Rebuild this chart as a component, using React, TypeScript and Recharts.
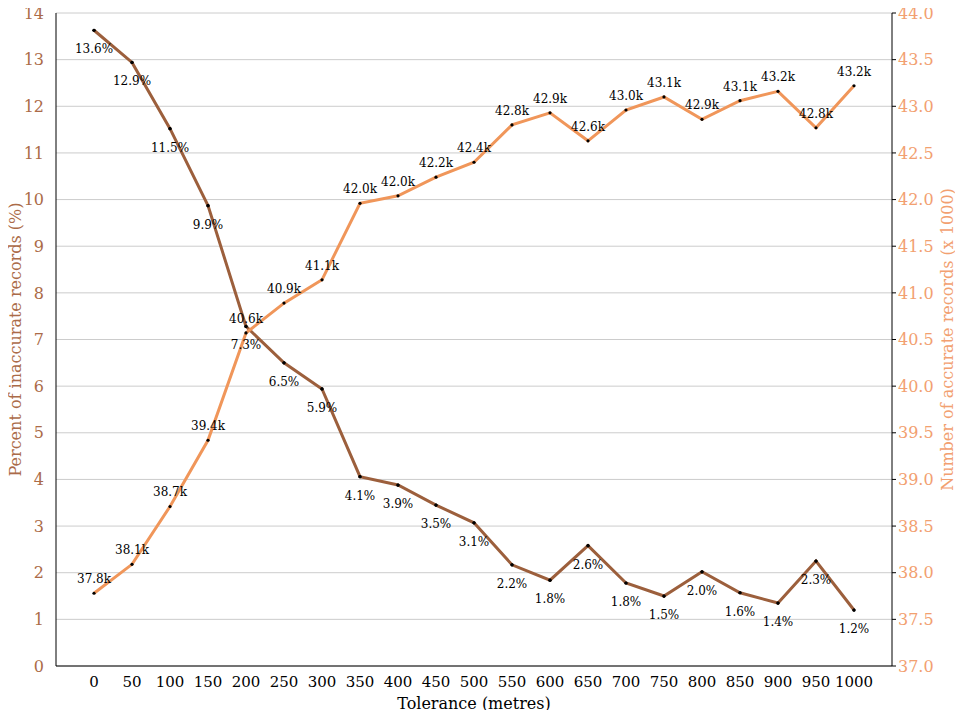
import React from 'react';
import { LineChart, Line, XAxis, YAxis, CartesianGrid, LabelList } from 'recharts';

const tolerances = [0, 50, 100, 150, 200, 250, 300, 350, 400, 450, 500, 550, 600, 650, 700, 750, 800, 850, 900, 950, 1000];
const pctInaccurate = [13.63, 12.94, 11.52, 9.87, 7.28, 6.5, 5.94, 4.06, 3.88, 3.45, 3.07, 2.17, 1.84, 2.58, 1.78, 1.5, 2.02, 1.57, 1.35, 2.25, 1.2];
const accurateK = [37.78, 38.09, 38.71, 39.42, 40.57, 40.89, 41.14, 41.96, 42.04, 42.24, 42.4, 42.8, 42.93, 42.63, 42.96, 43.1, 42.86, 43.06, 43.16, 42.77, 43.22];
const leftTicks = [0, 1, 2, 3, 4, 5, 6, 7, 8, 9, 10, 11, 12, 13, 14];
const rightTicks = [37, 37.5, 38, 38.5, 39, 39.5, 40, 40.5, 41, 41.5, 42, 42.5, 43, 43.5, 44];

const data = tolerances.map((t, i) => ({ t, pct: pctInaccurate[i], count: accurateK[i] }));

const FONT = "'DejaVu Serif', serif";
const BROWN = '#9c5f3c';
const BROWN_TEXT = '#ab6b48';
const ORANGE = '#f0965a';
const ORANGE_TEXT = '#f2a070';

const Dot = (props: any) => <circle key={props.index} cx={props.cx} cy={props.cy} r={1.6} fill="#000" />;

const PctLabel = (props: any) => (
  <text x={props.x} y={props.y + 19} textAnchor="middle" dominantBaseline="central" fontSize={12} fill="#000">
    {props.value.toFixed(1)}%
  </text>
);

const CountLabel = (props: any) => (
  <text x={props.x} y={props.y - 14} textAnchor="middle" dominantBaseline="central" fontSize={12} fill="#000">
    {props.value.toFixed(1)}k
  </text>
);

export default function App() {
  return (
    <div style={{ margin: -8, width: 963, height: 718, background: '#fff' }}>
      <style>{`svg text, .recharts-wrapper text { font-family: 'DejaVu Serif', serif !important; }`}</style>
      <LineChart width={963} height={718} data={data} margin={{ top: 13, right: 0, left: 0, bottom: 0 }}>
        <CartesianGrid yAxisId="left" vertical={false} stroke="#cccccc" />
        <XAxis
          dataKey="t"
          type="number"
          domain={[-50, 1050]}
          ticks={tolerances}
          interval={0}
          height={52}
          tickLine={false}
          axisLine={{ stroke: '#000' }}
          tick={{ fill: '#000', fontSize: 15 }}
          tickMargin={4}
          label={{ value: 'Tolerance (metres)', position: 'insideBottom', offset: 9, fill: '#000', fontSize: 16 }}
        />
        <YAxis
          yAxisId="left"
          domain={[0, 14]}
          ticks={leftTicks}
          interval={0}
          width={56}
          tickLine={false}
          axisLine={{ stroke: '#000' }}
          tick={{ fill: BROWN_TEXT, fontSize: 16 }}
          tickMargin={6}
          label={{ value: 'Percent of inaccurate records (%)', angle: -90, position: 'insideLeft', offset: 15, style: { textAnchor: 'middle' }, fill: BROWN_TEXT, fontSize: 16 }}
        />
        <YAxis
          yAxisId="right"
          orientation="right"
          domain={[37, 44]}
          ticks={rightTicks}
          interval={0}
          width={71}
          tickSize={4}
          tickLine={{ stroke: '#000' }}
          axisLine={{ stroke: '#000' }}
          tickFormatter={(v: number) => v.toFixed(1)}
          tick={{ fill: ORANGE_TEXT, fontSize: 16 }}
          tickMargin={2}
          label={{ value: 'Number of accurate records (x 1000)', angle: -90, position: 'insideRight', offset: 16, style: { textAnchor: 'middle' }, fill: ORANGE_TEXT, fontSize: 16 }}
        />
        <Line yAxisId="left" dataKey="pct" stroke="none" dot={false} activeDot={false} isAnimationActive={false}>
          <LabelList dataKey="pct" content={PctLabel} />
        </Line>
        <Line yAxisId="right" dataKey="count" stroke="none" dot={false} activeDot={false} isAnimationActive={false}>
          <LabelList dataKey="count" content={CountLabel} />
        </Line>
        <Line yAxisId="left" type="linear" dataKey="pct" stroke={BROWN} strokeWidth={3} dot={Dot} activeDot={false} isAnimationActive={false} />
        <Line yAxisId="right" type="linear" dataKey="count" stroke={ORANGE} strokeWidth={3} dot={Dot} activeDot={false} isAnimationActive={false} />
        <Line yAxisId="left" type="linear" dataKey="pct" stroke="none" dot={Dot} activeDot={false} isAnimationActive={false} />
      </LineChart>
    </div>
  );
}
